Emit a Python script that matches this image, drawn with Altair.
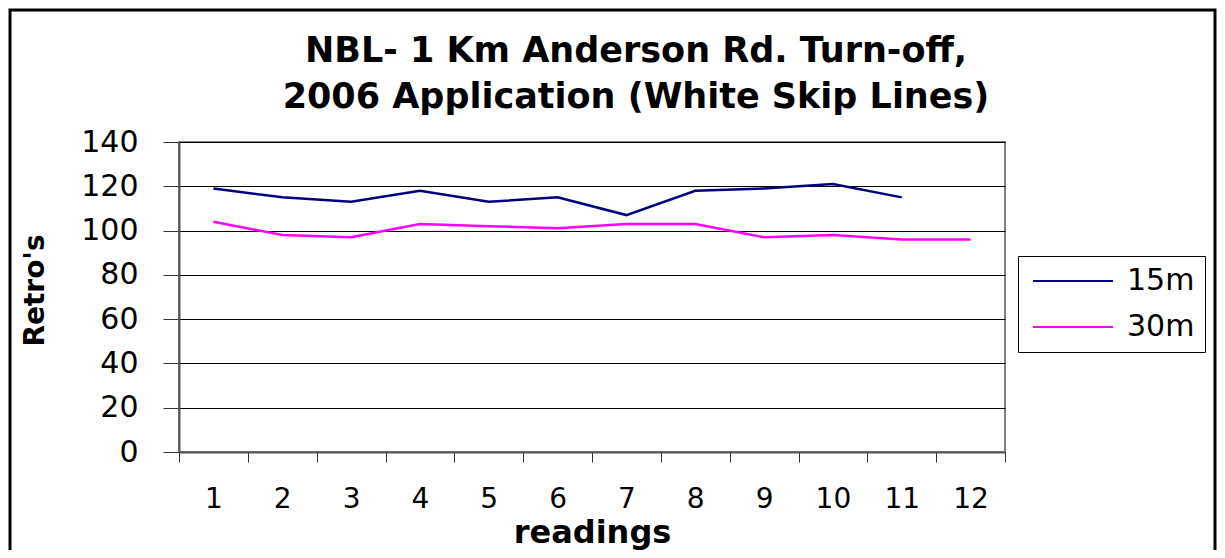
import altair as alt
import pandas as pd

readings = [str(i) for i in range(1, 13)]
series_15m = [119, 115, 113, 118, 113, 115, 107, 118, 119, 121, 115]
series_30m = [104, 98, 97, 103, 102, 101, 103, 103, 97, 98, 96, 96]
series_names = ["15m", "30m"]
series_colors = ["#000080", "#FF00FF"]
y_ticks = [0, 20, 40, 60, 80, 100, 120, 140]
title_lines = ["NBL- 1 Km Anderson Rd. Turn-off,", "2006 Application (White Skip Lines)"]

rows = []
for name, vals in zip(series_names, [series_15m, series_30m]):
    for r, v in zip(readings, vals):
        rows.append({"reading": r, "value": v, "series": name})
df = pd.DataFrame(rows)

FONT = "DejaVu Sans"

lines = alt.Chart(df).mark_line(strokeWidth=2.5).encode(
    x=alt.X(
        "reading:O",
        sort=readings,
        scale=alt.Scale(type="band", paddingInner=0, paddingOuter=0),
        axis=alt.Axis(
            title="readings",
            labelAngle=0,
            tickBand="extent",
            tickSize=10,
            tickColor="#333333",
            domainColor="#555555",
            domainWidth=2,
            labelPadding=23,
            labelFont=FONT,
            labelFontSize=28,
            labelColor="black",
            titleFont=FONT,
            titleFontSize=32,
            titleFontWeight="bold",
            titleColor="black",
            titleBaseline="alphabetic",
            titleY=90,
            grid=False,
        ),
    ),
    y=alt.Y(
        "value:Q",
        scale=alt.Scale(domain=[0, 140], nice=False, zero=True),
        axis=alt.Axis(
            title="Retro's",
            values=y_ticks,
            tickSize=16,
            tickColor="#333333",
            domainColor="#555555",
            domainWidth=2,
            labelPadding=25,
            labelFont=FONT,
            labelFontSize=30,
            labelColor="black",
            grid=True,
            gridColor="black",
            gridWidth=1,
            titleFont=FONT,
            titleFontSize=28,
            titleFontWeight="bold",
            titleColor="black",
            titleAngle=270,
            titleAlign="center",
            titleBaseline="middle",
            titleX=-144,
            titleY=148,
        ),
    ),
    color=alt.Color(
        "series:N",
        scale=alt.Scale(domain=series_names, range=series_colors),
        legend=alt.Legend(
            title=None,
            orient="none",
            legendX=839,
            legendY=114,
            symbolType="M-4,0H4",
            symbolSize=400,
            symbolStrokeWidth=2,
            symbolOffset=30,
            labelOffset=39,
            labelFont=FONT,
            labelFontSize=30,
            labelColor="black",
            rowPadding=16,
            padding=10,
            strokeColor="black",
            fillColor="white",
        ),
    ),
)

frame = alt.Chart(pd.DataFrame({"a": [0]})).mark_rect(
    fill=None, stroke="black", strokeWidth=3
).encode(
    x=alt.value(-169), x2=alt.value(1036), y=alt.value(-132), y2=alt.value(420)
)

chart = alt.layer(frame, lines).properties(
    width=826,
    height=310,
    padding={"left": 171, "top": 134, "right": 212, "bottom": 98},
    autosize=alt.AutoSizeParams(type="none"),
    title=alt.TitleParams(
        text=title_lines,
        font=FONT,
        fontSize=35,
        fontWeight="bold",
        color="black",
        anchor="middle",
        frame="group",
        dx=44,
        offset=-106,
        lineHeight=46,
    ),
    background="white",
).configure_view(stroke="#808080", strokeWidth=2)

chart.save("out.html", embed_options={"renderer": "svg", "actions": False})
